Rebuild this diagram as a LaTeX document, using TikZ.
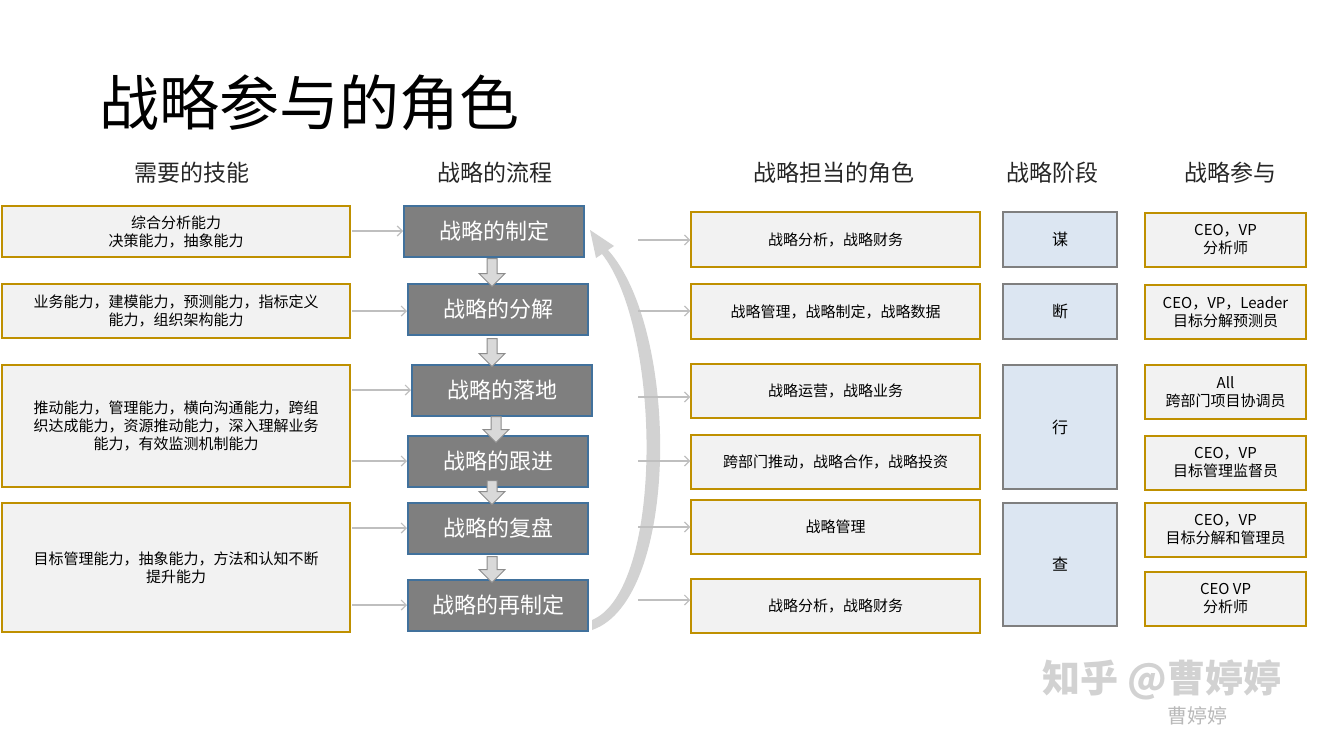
\documentclass[tikz,border=0pt]{standalone}
\usepackage{fontspec}
\setmainfont{Noto Sans CJK SC}
\usepackage{tikz}
\usetikzlibrary{calc,positioning,arrows.meta,shapes.arrows}

\definecolor{boxgold}{HTML}{BF9000}
\definecolor{boxfill}{HTML}{F2F2F2}
\definecolor{flowfill}{HTML}{7F7F7F}
\definecolor{flowedge}{HTML}{41719C}
\definecolor{stagefill}{HTML}{DCE6F2}
\definecolor{stageedge}{HTML}{7F7F7F}
\definecolor{linkgray}{HTML}{BFBFBF}

\tikzset{
	goldbox/.style={draw=boxgold, line width=1.5pt, fill=boxfill, inner sep=0pt, align=center,
		font=\fontsize{15}{18}\selectfont},
	flowbox/.style={draw=flowedge, line width=2pt, fill=flowfill, text=white, inner sep=0pt,
		font=\fontsize{22}{26}\selectfont},
	stagebox/.style={draw=stageedge, line width=1.5pt, fill=stagefill, inner sep=0pt,
		font=\fontsize{16}{19}\selectfont},
	head/.style={font=\fontsize{23}{27}\selectfont, text=black!85},
	link/.style={draw=linkgray, line width=1.2pt, -{Straight Barb[length=5pt,width=10pt]}},
	downarrow/.style={single arrow, shape border rotate=270, draw=gray!90, fill=gray!30, line width=1pt,
		minimum width=26pt, single arrow head extend=4pt, single arrow head indent=0pt,
		minimum height=26pt, inner sep=2pt}
}

% box from corners (x1,y1)-(x2,y2) in pixels
\newcommand{\pbox}[7]{%
	\node[#2, minimum width=#5pt-#3pt, minimum height=#6pt-#4pt] (#1) at ({(#3+#5)/2},{(#4+#6)/2}) {#7};}

\begin{document}
\begin{tikzpicture}[x=1pt,y=-1pt]
	\useasboundingbox (0,0) rectangle (1317,734);

	% title
	\node[anchor=west, font=\fontsize{60}{64}\selectfont] (title) at (96,103) {战略参与的角色};

	% headers
	\node[head] (hSkill) at (192,173) {需要的技能};
	\node[head] (hFlow)  at (495,173) {战略的流程};
	\node[head] (hRole)  at (834,173) {战略担当的角色};
	\node[head] (hStage) at (1052,173) {战略阶段};
	\node[head] (hJoin)  at (1230,173) {战略参与};

	% skills
	\pbox{skillA}{goldbox}{2}{206}{350}{257}{综合分析能力\\决策能力，抽象能力}
	\pbox{skillB}{goldbox}{2}{284}{350}{338}{业务能力，建模能力，预测能力，指标定义\\能力，组织架构能力}
	\pbox{skillC}{goldbox}{2}{365}{350}{487}{推动能力，管理能力，横向沟通能力，跨组\\织达成能力，资源推动能力，深入理解业务\\能力，有效监测机制能力}
	\pbox{skillD}{goldbox}{2}{503}{350}{632}{目标管理能力，抽象能力，方法和认知不断\\提升能力}

	% flow
	\pbox{flowA}{flowbox}{404}{206}{584}{257}{战略的制定}
	\pbox{flowB}{flowbox}{408}{284}{588}{335}{战略的分解}
	\pbox{flowC}{flowbox}{412}{365}{592}{416}{战略的落地}
	\pbox{flowD}{flowbox}{408}{436}{588}{487}{战略的跟进}
	\pbox{flowE}{flowbox}{408}{503}{588}{554}{战略的复盘}
	\pbox{flowF}{flowbox}{408}{580}{588}{631}{战略的再制定}

	% down arrows
	\node[downarrow, minimum height=28pt] (dAB) at (492,270) {};
	\node[downarrow, minimum height=28pt] (dBC) at (492,350) {};
	\node[downarrow, minimum height=26pt] (dCD) at (496,427) {};
	\node[downarrow, minimum height=24pt] (dDE) at (492,490) {};
	\node[downarrow, minimum height=26pt] (dEF) at (492,567) {};

	% skill -> flow links
	\coordinate (sA) at (352,231);
	\coordinate (sB) at (352,311);
	\coordinate (sC1) at (352,390);
	\coordinate (sC2) at (352,461);
	\coordinate (sD1) at (352,528);
	\coordinate (sD2) at (352,605);
	\draw[link] (sA) -- (sA -| flowA.west);
	\draw[link] (sB) -- (sB -| flowB.west);
	\draw[link] (sC1) -- (sC1 -| flowC.west);
	\draw[link] (sC2) -- (sC2 -| flowD.west);
	\draw[link] (sD1) -- (sD1 -| flowE.west);
	\draw[link] (sD2) -- (sD2 -| flowF.west);

	% loop back arrow
	\fill[gray!35] (592,630) .. controls (680,600) and (680,330) .. (608,250)
		-- (614,246) -- (590,230) -- (596,258) -- (602,254)
		.. controls (662,330) and (664,590) .. (592,620) -- cycle;

	% roles
	\pbox{roleA}{goldbox}{691}{212}{980}{267}{战略分析，战略财务}
	\pbox{roleB}{goldbox}{691}{284}{980}{339}{战略管理，战略制定，战略数据}
	\pbox{roleC}{goldbox}{691}{364}{980}{418}{战略运营，战略业务}
	\pbox{roleD}{goldbox}{691}{435}{980}{489}{跨部门推动，战略合作，战略投资}
	\pbox{roleE}{goldbox}{691}{500}{980}{554}{战略管理}
	\pbox{roleF}{goldbox}{691}{579}{980}{633}{战略分析，战略财务}

	% flow -> role links
	\foreach \r/\y in {roleA/240, roleB/311, roleC/397, roleD/461, roleE/527, roleF/600}{
		\coordinate (l\r) at (638,\y);
		\draw[link] (l\r) -- (l\r -| \r.west);
	}

	% stages
	\pbox{stageA}{stagebox}{1003}{212}{1117}{267}{谋}
	\pbox{stageB}{stagebox}{1003}{284}{1117}{339}{断}
	\pbox{stageC}{stagebox}{1003}{365}{1117}{489}{行}
	\pbox{stageD}{stagebox}{1003}{503}{1117}{626}{查}

	% participants
	\pbox{joinA}{goldbox}{1145}{213}{1306}{267}{CEO，VP\\分析师}
	\pbox{joinB}{goldbox}{1145}{285}{1306}{339}{CEO，VP，Leader\\目标分解预测员}
	\pbox{joinC}{goldbox}{1145}{365}{1306}{419}{All\\跨部门项目协调员}
	\pbox{joinD}{goldbox}{1145}{436}{1306}{490}{CEO，VP\\目标管理监督员}
	\pbox{joinE}{goldbox}{1145}{503}{1306}{557}{CEO，VP\\目标分解和管理员}
	\pbox{joinF}{goldbox}{1145}{572}{1306}{626}{CEO VP\\分析师}

	% watermark
	\node[text=gray!35, font=\fontsize{38}{42}\selectfont\bfseries] (mark) at (1162,680) {知乎 @曹婷婷};
	\node[text=gray!55, font=\fontsize{20}{24}\selectfont] (markB) at (1197,716) {曹婷婷};
\end{tikzpicture}
\end{document}
